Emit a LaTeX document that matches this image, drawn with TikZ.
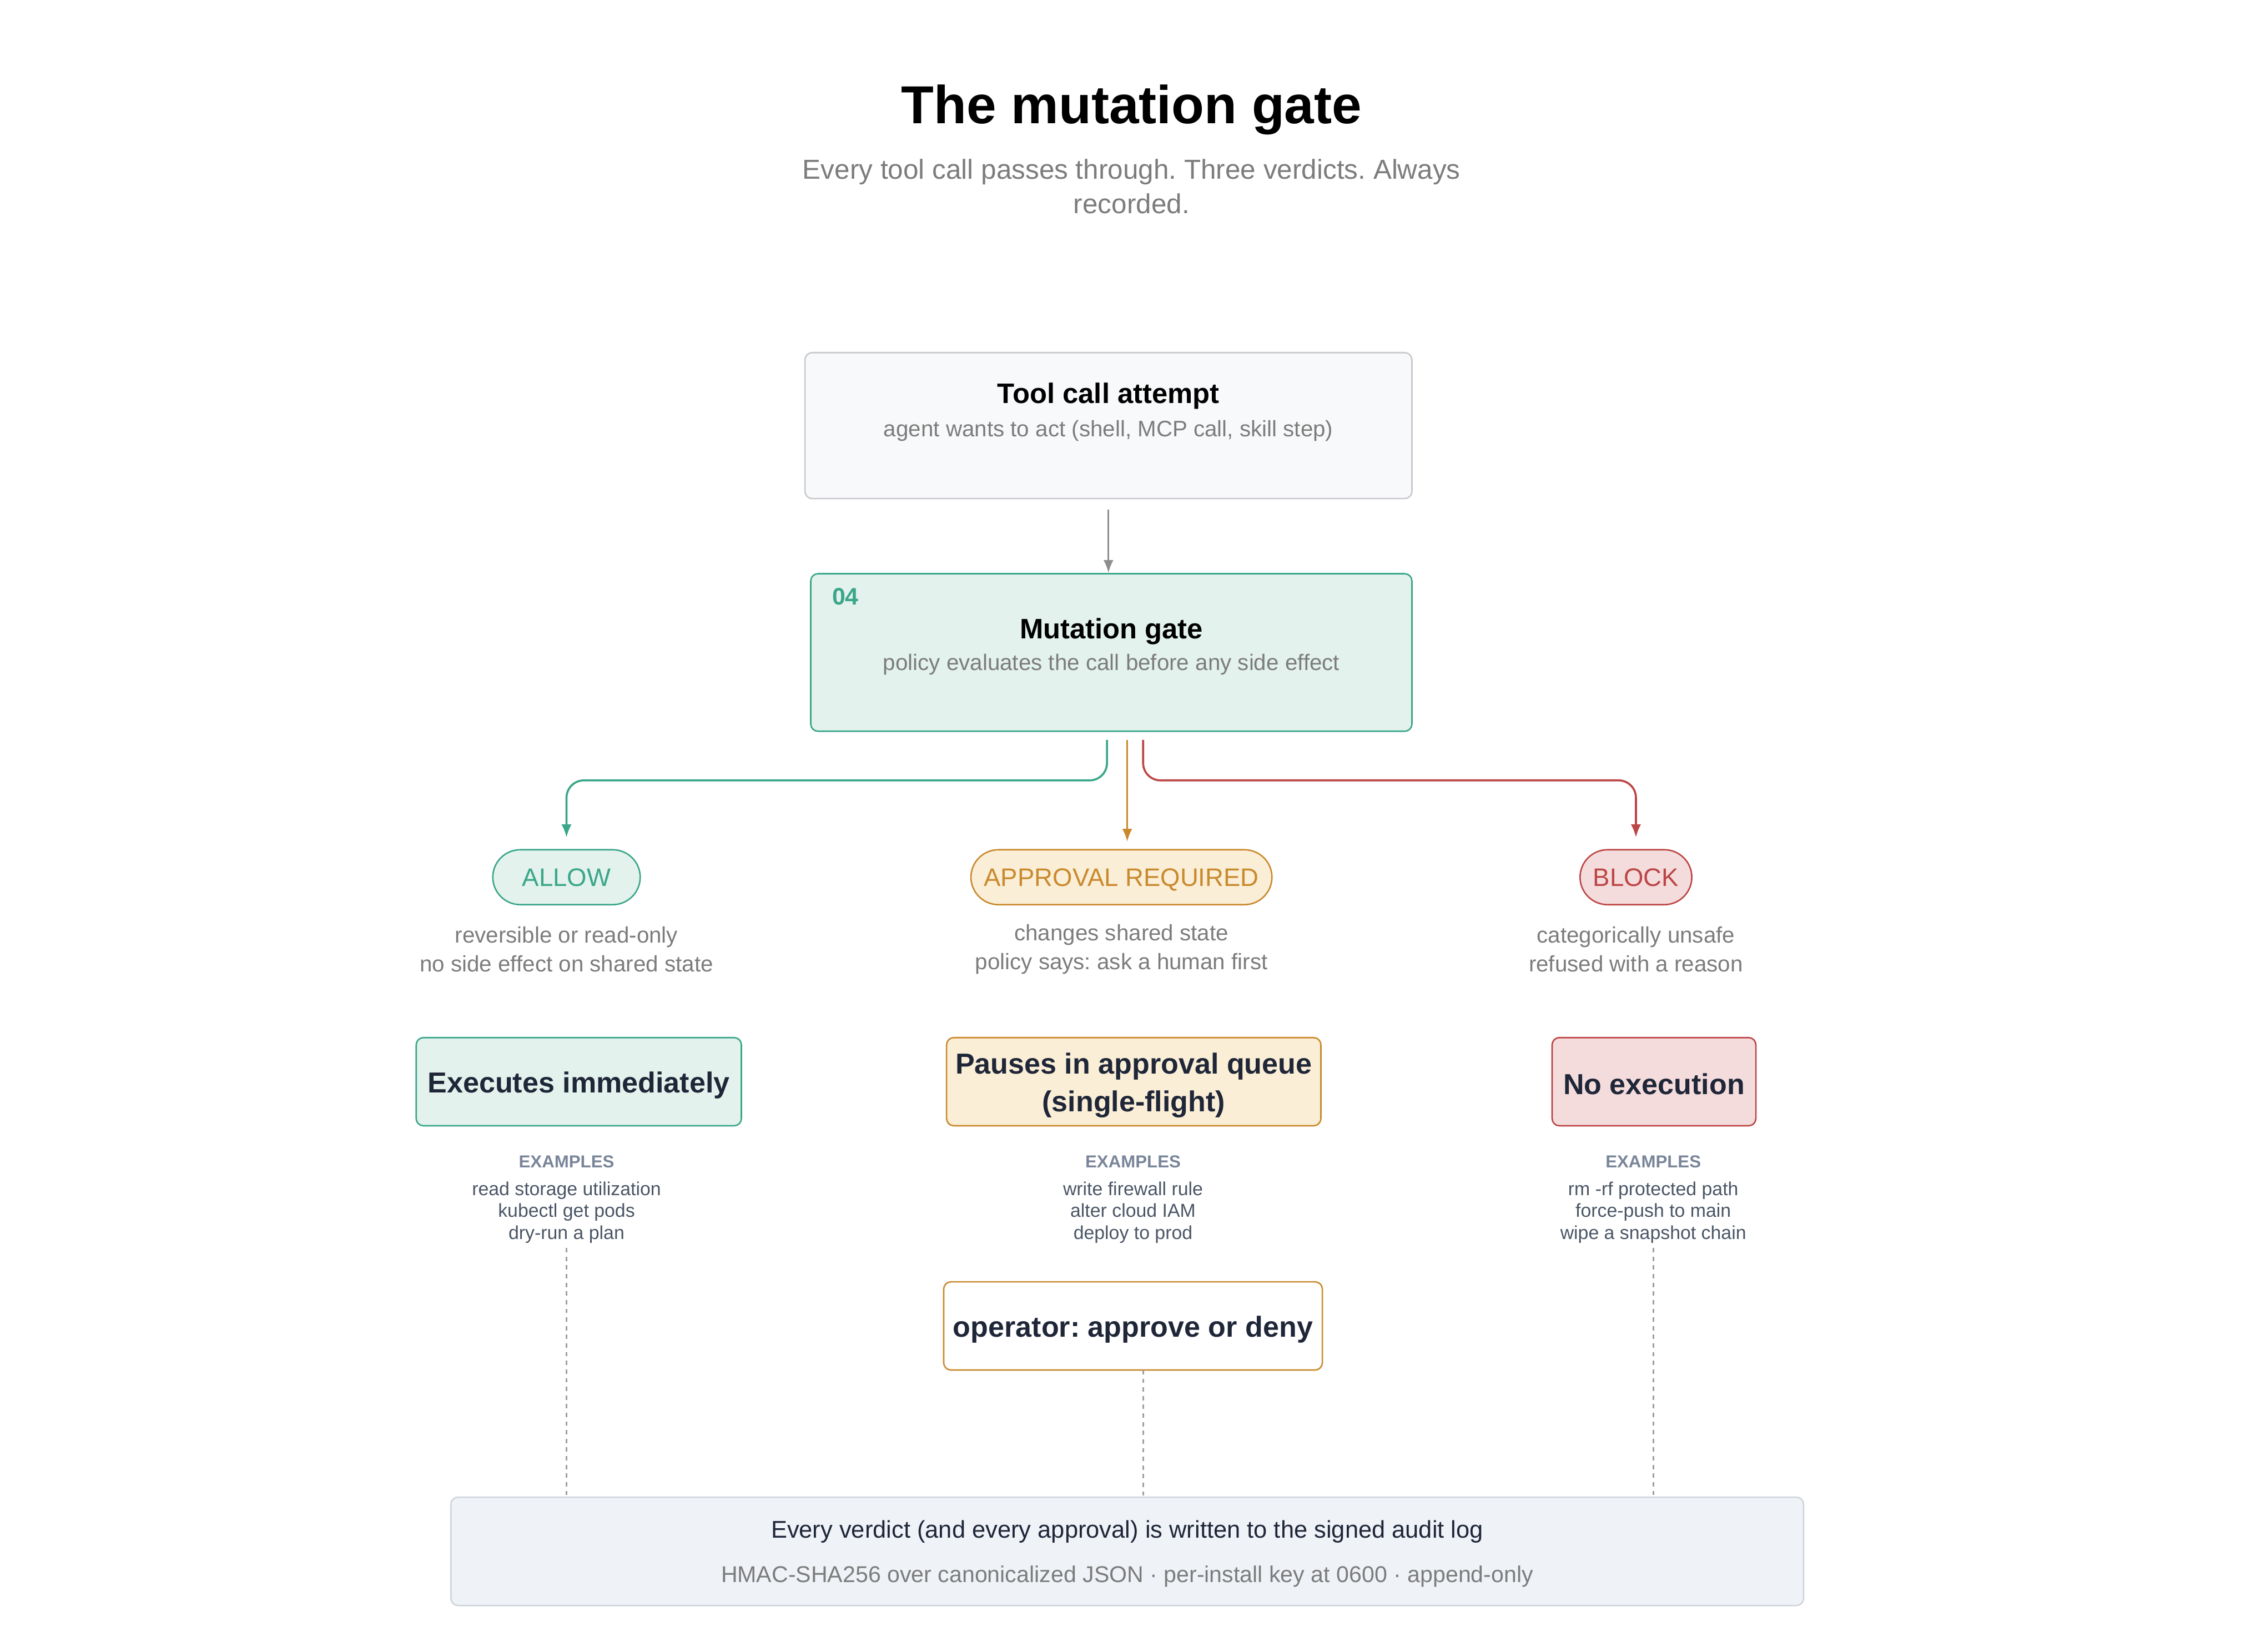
\documentclass[tikz,border=0pt]{standalone}
\usepackage{fontspec}
\setmainfont{Liberation Sans}
\usetikzlibrary{arrows.meta,positioning}

\definecolor{tealline}{HTML}{3AA68A}
\definecolor{tealfill}{HTML}{E3F2EC}
\definecolor{amberline}{HTML}{C98A2E}
\definecolor{amberfill}{HTML}{FAEED6}
\definecolor{redline}{HTML}{BD4545}
\definecolor{redfill}{HTML}{F4DCDC}
\definecolor{inkdark}{HTML}{1E2638}
\definecolor{softgray}{HTML}{7C7C7C}
\definecolor{slate}{HTML}{7A8599}
\definecolor{slatetext}{HTML}{4A5565}
\definecolor{toolfill}{HTML}{F8F9FA}
\definecolor{toolline}{HTML}{C9CACD}
\definecolor{auditfill}{HTML}{EFF2F7}
\definecolor{auditline}{HTML}{D0D5DC}
\definecolor{flowgray}{HTML}{8E8E8E}

\frenchspacing

\begin{document}
\begin{tikzpicture}[x=1pt, y=-1pt, >={Latex[length=9pt,width=7pt]}]
	\tikzstyle{card} = [ draw, rounded corners=5pt, line width=1pt, inner sep=0pt ];
	\tikzstyle{pill} = [ draw, rounded corners=19pt, line width=1pt, minimum height=38pt, inner xsep=9pt, text depth=0pt, font={\fontsize{17.5}{20}\selectfont} ];
	\tikzstyle{outcome} = [ card, minimum height=61pt ];
	\tikzstyle{outtext} = [ text=inkdark, align=center, font={\bfseries\fontsize{20}{26}\selectfont} ];
	\tikzstyle{head} = [ font={\bfseries\fontsize{19.5}{24}\selectfont} ];
	\tikzstyle{desc} = [ text=softgray, align=center, font={\fontsize{15.5}{20}\selectfont} ];
	\tikzstyle{exhead} = [ text=slate, font={\bfseries\fontsize{12}{14}\selectfont} ];
	\tikzstyle{exlist} = [ text=slatetext, align=center, font={\fontsize{13}{15}\selectfont} ];
	\tikzstyle{flow} = [ ->, line width=1.4pt, rounded corners=12pt ];
	\tikzstyle{trail} = [ flowgray!85, line width=1.3pt, dash pattern=on 3pt off 3pt ];

	\useasboundingbox (0,0) rectangle (1568,1143);

	\node[font={\bfseries\fontsize{37}{44}\selectfont}] (title) at (783,76) {The mutation gate};
	\node[desc, font={\fontsize{19}{24}\selectfont}] (subtitle) at (783,129) {Every tool call passes through. Three verdicts. Always\\recorded.};

	% tool call and gate
	\node[card, fill=toolfill, draw=toolline, minimum width=420pt, minimum height=101pt] (tool) at (767,294.5) {};
	\node[head] (tooltitle) at (767,274) {Tool call attempt};
	\node[desc] (toolsub) at (767,298) {agent wants to act (shell, MCP call, skill step)};

	\node[card, fill=tealfill, draw=tealline, minimum width=416pt, minimum height=109pt] (gate) at (769,451.5) {};
	\node[text=tealline, font={\bfseries\fontsize{16.5}{18}\selectfont}] (gateno) at (585,413) {04};
	\node[head] (gatetitle) at (769,437) {Mutation gate};
	\node[desc] (gatesub) at (769,460) {policy evaluates the call before any side effect};

	\draw[flow, flowgray, line width=1.2pt, shorten <=7pt] (tool.south) -- (tool.south |- gate.north);

	% verdicts
	\node[pill, fill=tealfill, draw=tealline, text=tealline, minimum width=102pt] (allow) at (392,607) {ALLOW};
	\node[pill, fill=amberfill, draw=amberline, text=amberline] (approval) at (776,607) {APPROVAL REQUIRED};
	\node[pill, fill=redfill, draw=redline, text=redline] (block) at (1132,607) {BLOCK};

	\coordinate (outA) at (766,512);
	\coordinate (outB) at (780,512);
	\coordinate (outC) at (791,512);
	\draw[flow, tealline, shorten >=8pt] (outA) -- ++(0,28) -| (allow.north);
	\draw[flow, amberline, shorten >=5pt] (outB) -- (outB |- approval.north);
	\draw[flow, redline, shorten >=8pt] (outC) -- ++(0,28) -| (block.north);

	\node[desc] (allowdesc) at (392,657) {reversible or read-only\\no side effect on shared state};
	\node[desc] (approvaldesc) at (776,657) {changes shared state\\policy says: ask a human first};
	\node[desc] (blockdesc) at (1132,657) {categorically unsafe\\refused with a reason};

	% outcomes
	\node[outcome, fill=tealfill, draw=tealline, minimum width=225pt] (runnow) at (400.5,748.5) {};
	\node[outtext] (runnowtext) at (400.5,751) {Executes immediately};
	\node[outcome, fill=amberfill, draw=amberline, minimum width=259pt] (queue) at (784.5,748.5) {};
	\node[outtext] (queuetext) at (784.5,751) {Pauses in approval queue\\(single-flight)};
	\node[outcome, fill=redfill, draw=redline, minimum width=141pt] (noexec) at (1144.5,748.5) {};
	\node[outtext] (noexectext) at (1144.5,750) {No execution};

	\node[exhead] (allowhead) at (392,804) {EXAMPLES};
	\node[exlist] (allowex) at (392,839) {read storage utilization\\kubectl get pods\\dry-run a plan};
	\node[exhead] (approvalhead) at (784,804) {EXAMPLES};
	\node[exlist] (approvalex) at (784,839) {write firewall rule\\alter cloud IAM\\deploy to prod};
	\node[exhead] (blockhead) at (1144,804) {EXAMPLES};
	\node[exlist] (blockex) at (1144,839) {rm -rf protected path\\force-push to main\\wipe a snapshot chain};

	\node[outcome, fill=white, draw=amberline, minimum width=262pt] (operator) at (784,917.5) {};
	\node[outtext] (operatortext) at (784,920) {operator: approve or deny};

	% audit log
	\node[card, fill=auditfill, draw=auditline, minimum width=936pt, minimum height=75pt] (audit) at (780,1073.5) {};
	\node[text=inkdark, font={\fontsize{16.7}{20}\selectfont}] (audittitle) at (780,1060) {Every verdict (and every approval) is written to the signed audit log};
	\node[desc, font={\fontsize{15.8}{20}\selectfont}] (auditsub) at (780,1091) {HMAC-SHA256 over canonicalized JSON · per-install key at 0600 · append-only};

	\coordinate (opout) at (791,948);
	\draw[trail] (allowex.south) -- (allowex.south |- audit.north);
	\draw[trail] (opout) -- (opout |- audit.north);
	\draw[trail] (blockex.south) -- (blockex.south |- audit.north);

\end{tikzpicture}
\end{document}
